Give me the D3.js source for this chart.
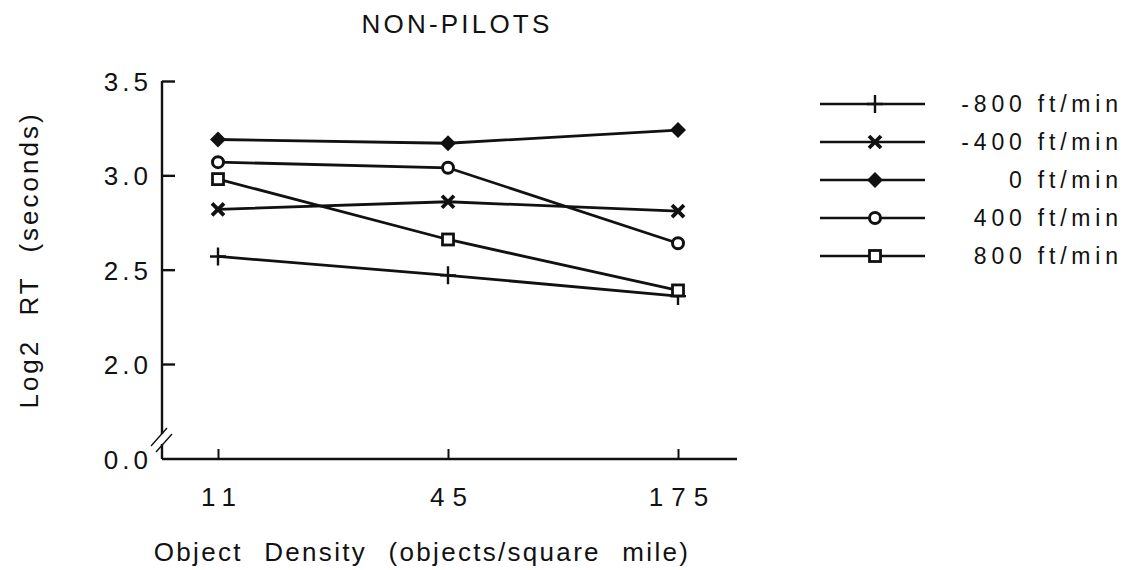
<!DOCTYPE html>
<html><head><meta charset="utf-8">
<script src="https://cdn.jsdelivr.net/npm/d3@7"></script>
<style>
body{margin:0;background:#fff;}
text{font-family:"Liberation Sans",Arial,Helvetica,sans-serif;fill:#111;}
</style></head>
<body><svg id="c" width="1129" height="570"></svg>
<script>
const densities = ["11", "45", "175"];
const seriesNames = ["-800 ft/min", "-400 ft/min", "0 ft/min", "400 ft/min", "800 ft/min"];
const seriesSymbols = ["plus", "x", "diamond", "circle", "square"];
const vMinus800 = [2.57, 2.47, 2.36];
const vMinus400 = [2.82, 2.86, 2.81];
const v0 = [3.19, 3.17, 3.24];
const v400 = [3.07, 3.04, 2.64];
const v800 = [2.98, 2.66, 2.39];
const yTickValues = [0, 2.0, 2.5, 3.0, 3.5];
const title = "NON-PILOTS";
const xTitle = "Object Density (objects/square mile)";
const yTitle = "Log2 RT (seconds)";

const seriesValues = [vMinus800, vMinus400, v0, v400, v800];
const svg = d3.select("#c");
const ink = "#111";
const FONT = "Liberation Sans, Arial, sans-serif";

const x = d3.scalePoint().domain(densities).range([218, 678]);
// broken axis: 0.0 at bottom, then 2.0..3.5
const y = d3.scaleLinear().domain([0, 2.0, 3.5]).range([459, 364, 81]);

const axisX0 = 162, axisY0 = 459, axisXEnd = 737;

// title
svg.append("text").attr("x", 457).attr("y", 33).attr("text-anchor", "middle")
  .attr("font-size", 26).attr("letter-spacing", 3.2).text(title);

// y axis
const ySp = 4;
const yAxis = d3.axisLeft(y).tickValues(yTickValues).tickFormat(d3.format(".1f"))
  .tickSizeInner(-13).tickSizeOuter(0).tickPadding(10);
const gy = svg.append("g").attr("transform", `translate(${axisX0},0)`).call(yAxis);
gy.select(".domain").remove();
gy.selectAll(".tick line").attr("stroke", ink).attr("stroke-width", 2.4)
  .attr("display", d => d === 0 ? "none" : null);
gy.selectAll(".tick text").attr("font-size", 26).attr("fill", ink)
  .attr("font-family", FONT).attr("letter-spacing", ySp).attr("dy", "0.36em");
svg.append("line").attr("x1", axisX0).attr("x2", axisX0)
  .attr("y1", y(3.5)).attr("y2", 434).attr("stroke", ink).attr("stroke-width", 2.4);
svg.append("line").attr("x1", axisX0).attr("x2", axisX0)
  .attr("y1", 444).attr("y2", axisY0).attr("stroke", ink).attr("stroke-width", 2.4);
// break marks
[[0, 0], [5, 6]].forEach(([dx, dy]) => {
  svg.append("line").attr("x1", axisX0 - 11 + dx).attr("y1", 446 + dy)
    .attr("x2", axisX0 + 5 + dx).attr("y2", 428 + dy)
    .attr("stroke", ink).attr("stroke-width", 1.4);
});

// x axis
const xSp = 8;
const xAxis = d3.axisBottom(x).tickSizeInner(-10).tickSizeOuter(0).tickPadding(29);
const gx = svg.append("g").attr("transform", `translate(0,${axisY0})`).call(xAxis);
gx.select(".domain").remove();
gx.selectAll(".tick line").attr("stroke", ink).attr("stroke-width", 2);
gx.selectAll(".tick text").attr("font-size", 26).attr("fill", ink)
  .attr("font-family", FONT).attr("letter-spacing", xSp).attr("dx", xSp / 2);
svg.append("line").attr("x1", axisX0).attr("x2", axisXEnd)
  .attr("y1", axisY0).attr("y2", axisY0).attr("stroke", ink).attr("stroke-width", 2.4);

svg.append("text").attr("x", 422).attr("y", 561).attr("text-anchor", "middle")
  .attr("font-size", 26).attr("letter-spacing", 2.3).attr("word-spacing", 12)
  .text(xTitle);
svg.append("text").attr("transform", "translate(38,260) rotate(-90)")
  .attr("text-anchor", "middle").attr("font-size", 26)
  .attr("letter-spacing", 3).attr("word-spacing", 13).text(yTitle);

// markers
function drawMarker(g, sym, cx, cy) {
  const s = g.append("g").attr("transform", `translate(${cx},${cy})`);
  if (sym === "plus") {
    s.append("path").attr("d", "M-8,0H8M0,-9V9").attr("stroke", ink).attr("stroke-width", 2.4).attr("fill", "none");
  } else if (sym === "x") {
    s.append("path").attr("d", "M-6,-6L6,6M-6,6L6,-6").attr("stroke", ink).attr("stroke-width", 3.8).attr("fill", "none");
  } else if (sym === "diamond") {
    s.append("path").attr("d", "M0,-8L8,0L0,8L-8,0Z").attr("fill", ink);
  } else if (sym === "circle") {
    s.append("circle").attr("r", 5.5).attr("fill", "#fff").attr("stroke", ink).attr("stroke-width", 3);
  } else if (sym === "square") {
    s.append("rect").attr("x", -5.5).attr("y", -5.5).attr("width", 11).attr("height", 11)
      .attr("fill", "#fff").attr("stroke", ink).attr("stroke-width", 2.8);
  }
}

const line = d3.line().x((d, i) => x(densities[i])).y(d => y(d));
seriesValues.forEach((vals, k) => {
  svg.append("path").datum(vals).attr("d", line).attr("fill", "none")
    .attr("stroke", ink).attr("stroke-width", 2.8);
});
seriesValues.forEach((vals, k) => {
  vals.forEach((v, i) => drawMarker(svg, seriesSymbols[k], x(densities[i]), y(v)));
});

// legend
const legSp = 4.8;
const legY = d3.scalePoint().domain(seriesNames).range([104, 256]);
seriesNames.forEach((name, k) => {
  const ly = legY(name);
  svg.append("line").attr("x1", 820).attr("x2", 925).attr("y1", ly).attr("y2", ly)
    .attr("stroke", ink).attr("stroke-width", 2.6);
  drawMarker(svg, seriesSymbols[k], 875, ly);
  svg.append("text").attr("x", 1118 + legSp).attr("y", ly + 8).attr("text-anchor", "end")
    .attr("font-size", 23).attr("letter-spacing", legSp).text(name);
});
</script></body></html>
